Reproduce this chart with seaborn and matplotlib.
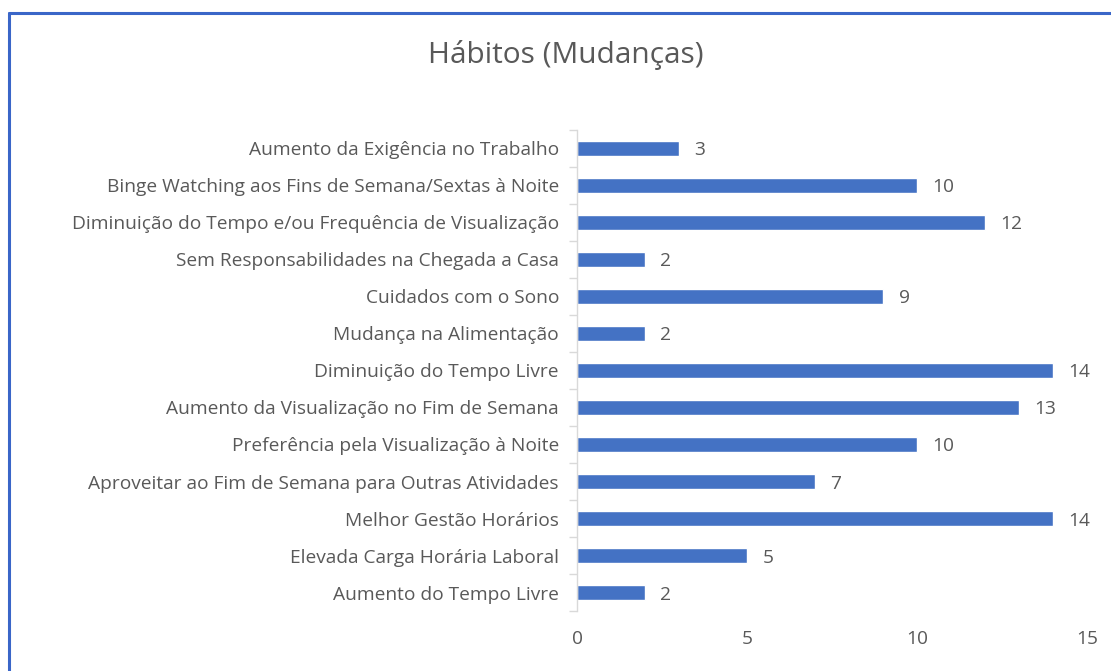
import numpy as np
import pandas as pd
import matplotlib
matplotlib.use("Agg")
import matplotlib.pyplot as plt
import seaborn as sns
from matplotlib.lines import Line2D

categorias = [
    "Aumento da Exigência no Trabalho",
    "Binge Watching aos Fins de Semana/Sextas à Noite",
    "Diminuição do Tempo e/ou Frequência de Visualização",
    "Sem Responsabilidades na Chegada a Casa",
    "Cuidados com o Sono",
    "Mudança na Alimentação",
    "Diminuição do Tempo Livre",
    "Aumento da Visualização no Fim de Semana",
    "Preferência pela Visualização à Noite",
    "Aproveitar ao Fim de Semana para Outras Atividades",
    "Melhor Gestão Horários",
    "Elevada Carga Horária Laboral",
    "Aumento do Tempo Livre",
]
valores = [3, 10, 12, 2, 9, 2, 14, 13, 10, 7, 14, 5, 2]
x_ticks = [0, 5, 10, 15]

df = pd.DataFrame({"cat": categorias, "val": valores})

sns.set_style("white")
plt.rcParams["font.family"] = ["Open Sans", "DejaVu Sans"]
cinza = "#595959"
fs = 13.8

fig = plt.figure(figsize=(11.11, 6.71), dpi=100)
ax = fig.add_axes([0.5194, 0.0894, 0.4594, 0.7169])

sns.barplot(data=df, x="val", y="cat", color="#4472C4", saturation=1,
            width=0.4, ax=ax, orient="h")

ax.set_xlim(0, 15)
ax.set_ylim(len(categorias) - 0.5, -0.5)
ax.set_xticks(x_ticks)
ax.set_xlabel("")
ax.set_ylabel("")

for i, v in enumerate(valores):
    ax.text(v + 0.45, i, str(v), va="center_baseline", ha="left", fontsize=fs, color=cinza)

for s in ["top", "right", "bottom"]:
    ax.spines[s].set_visible(False)
ax.spines["left"].set_color("#d9d9d9")
ax.spines["left"].set_linewidth(1)

ax.tick_params(axis="y", which="major", left=False, length=0, pad=13, labelsize=fs, labelcolor=cinza)
ax.tick_params(axis="x", which="major", length=0, pad=14, labelsize=fs, labelcolor=cinza)
ax.set_yticks(np.arange(-0.5, len(categorias), 1), minor=True)
ax.tick_params(axis="y", which="minor", left=True, length=6, width=1,
               color="#d9d9d9", direction="out")

fig.text(0.5095, 0.918, "Hábitos (Mudanças)", ha="center", va="center",
         fontsize=21.5, color=cinza)

# moldura azul
fig.add_artist(Line2D([0.0085, 0.0085], [0, 0.981], transform=fig.transFigure,
                      color="#3a66c8", lw=2.2))
fig.add_artist(Line2D([0.0085, 1], [0.981, 0.981], transform=fig.transFigure,
                      color="#3a66c8", lw=2.2))

fig.savefig("out.png", dpi=100)
